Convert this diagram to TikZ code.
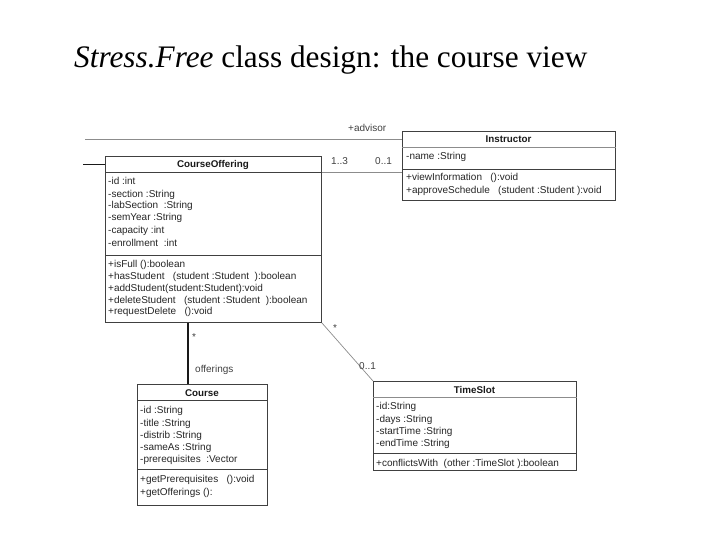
\documentclass[tikz,border=0pt]{standalone}
\usepackage{fontspec}
\newfontfamily\umlfont{Liberation Sans}
\newfontfamily\ttlfont{Liberation Serif}
\begin{document}
\begin{tikzpicture}[x=1pt,y=-1pt,
  box/.style={draw=black!75, line width=0.8pt, fill=white, inner sep=0pt, anchor=north west},
  sepline/.style={draw=black!75, line width=0.8pt},
  lightsep/.style={draw=black!45, line width=0.8pt},
  txt/.style={font=\umlfont\fontsize{10}{11}\selectfont, inner sep=0pt, anchor=base west, text=black!85},
  ctitle/.style={font=\umlfont\bfseries\fontsize{9.8}{11}\selectfont, inner sep=0pt, anchor=base, text=black!90},
  lbl/.style={font=\umlfont\fontsize{10}{11}\selectfont, inner sep=0pt, anchor=base west, text=black!75},
  assoc/.style={draw=black!45, line width=0.7pt},
  strong/.style={draw=black!90, line width=1.6pt},
  stub/.style={draw=black!90, line width=0.9pt}
]
\useasboundingbox (0,0) rectangle (720,540);

% Title
\node[font=\ttlfont\fontsize{31.3}{36}\selectfont, inner sep=0pt, anchor=base west] (title) at (74,68) {\textit{Stress.Free} class design: the course view};

% ---------------- CourseOffering
\node[box, minimum width=216pt, minimum height=166pt] (co) at (105,156) {};
\draw[sepline] ([yshift=-16pt]co.north west) -- ([yshift=-16pt]co.north east);
\draw[sepline] ([yshift=-99pt]co.north west) -- ([yshift=-99pt]co.north east);
\node[ctitle] (cot) at (213,168) {CourseOffering};
\node[txt] (coa1) at (108,185) {-id :int};
\node[txt] (coa2) at (108,197) {-section :String};
\node[txt] (coa3) at (108,209) {-labSection~ :String};
\node[txt] (coa4) at (108,221) {-semYear :String};
\node[txt] (coa5) at (108,233.5) {-capacity :int};
\node[txt] (coa6) at (108,246) {-enrollment~ :int};
\node[txt] (com1) at (108,267.5) {+isFull ():boolean};
\node[txt] (com2) at (108,279.5) {+hasStudent~~ (student :Student ~):boolean};
\node[txt] (com3) at (108,291.5) {+addStudent(student:Student):void};
\node[txt] (com4) at (108,303) {+deleteStudent~~ (student :Student ~):boolean};
\node[txt] (com5) at (108,314.5) {+requestDelete~~ ():void};

% ---------------- Instructor
\node[box, minimum width=213pt, minimum height=69pt] (ins) at (402,131) {};
\draw[lightsep] ([yshift=-16pt]ins.north west) -- ([yshift=-16pt]ins.north east);
\draw[sepline] ([yshift=-38pt]ins.north west) -- ([yshift=-38pt]ins.north east);
\node[ctitle] (inst) at (508.5,143) {Instructor};
\node[txt] (insa1) at (406,160) {-name :String};
\node[txt] (insm1) at (406,181) {+viewInformation~~ ():void};
\node[txt] (insm2) at (406,194) {+approveSchedule~~ (student :Student ):void};

% ---------------- Course
\node[box, minimum width=130pt, minimum height=121pt] (crs) at (137,384) {};
\draw[sepline] ([yshift=-16pt]crs.north west) -- ([yshift=-16pt]crs.north east);
\draw[sepline] ([yshift=-85pt]crs.north west) -- ([yshift=-85pt]crs.north east);
\node[ctitle] (crst) at (202,396) {Course};
\node[txt] (crsa1) at (140,413.5) {-id :String};
\node[txt] (crsa2) at (140,426) {-title :String};
\node[txt] (crsa3) at (140,438) {-distrib :String};
\node[txt] (crsa4) at (140,450) {-sameAs :String};
\node[txt] (crsa5) at (140,462.5) {-prerequisites~ :Vector};
\node[txt] (crsm1) at (140,482.5) {+getPrerequisites~~ ():void};
\node[txt] (crsm2) at (140,495.5) {+getOfferings ():};

% ---------------- TimeSlot
\node[box, minimum width=203pt, minimum height=89pt] (ts) at (373,381) {};
\draw[lightsep] ([yshift=-16pt]ts.north west) -- ([yshift=-16pt]ts.north east);
\draw[sepline] ([yshift=-72pt]ts.north west) -- ([yshift=-72pt]ts.north east);
\node[ctitle] (tst) at (474.5,393) {TimeSlot};
\node[txt] (tsa1) at (376,409.5) {-id:String};
\node[txt] (tsa2) at (376,422.5) {-days :String};
\node[txt] (tsa3) at (376,434.5) {-startTime :String};
\node[txt] (tsa4) at (376,446.5) {-endTime :String};
\node[txt] (tsm1) at (376,466.5) {+conflictsWith~ (other :TimeSlot ):boolean};

% ---------------- Connectors
\coordinate (advL) at (85,139);
\draw[assoc] (advL) -- (advL -| ins.west);
\node[lbl] (advlbl) at (348,132) {+advisor};

\coordinate (stubL) at (83,164);
\draw[stub] (stubL) -- (stubL -| co.west);

\coordinate (asY) at (0,172);
\draw[assoc] (co.east |- asY) -- (ins.west |- asY);
\node[lbl] (m13) at (331,165) {1..3};
\node[lbl] (m01a) at (375,165) {0..1};

\coordinate (offX) at (188,0);
\draw[strong] (co.south -| offX) -- (crs.north -| offX);
\node[lbl] (mstar1) at (192,340) {*};
\node[lbl] (offlbl) at (195,372) {offerings};

\draw[assoc] (co.south east) -- (ts.north west);
\node[lbl] (mstar2) at (333,331) {*};
\node[lbl] (m01b) at (359,369) {0..1};
\end{tikzpicture}
\end{document}
